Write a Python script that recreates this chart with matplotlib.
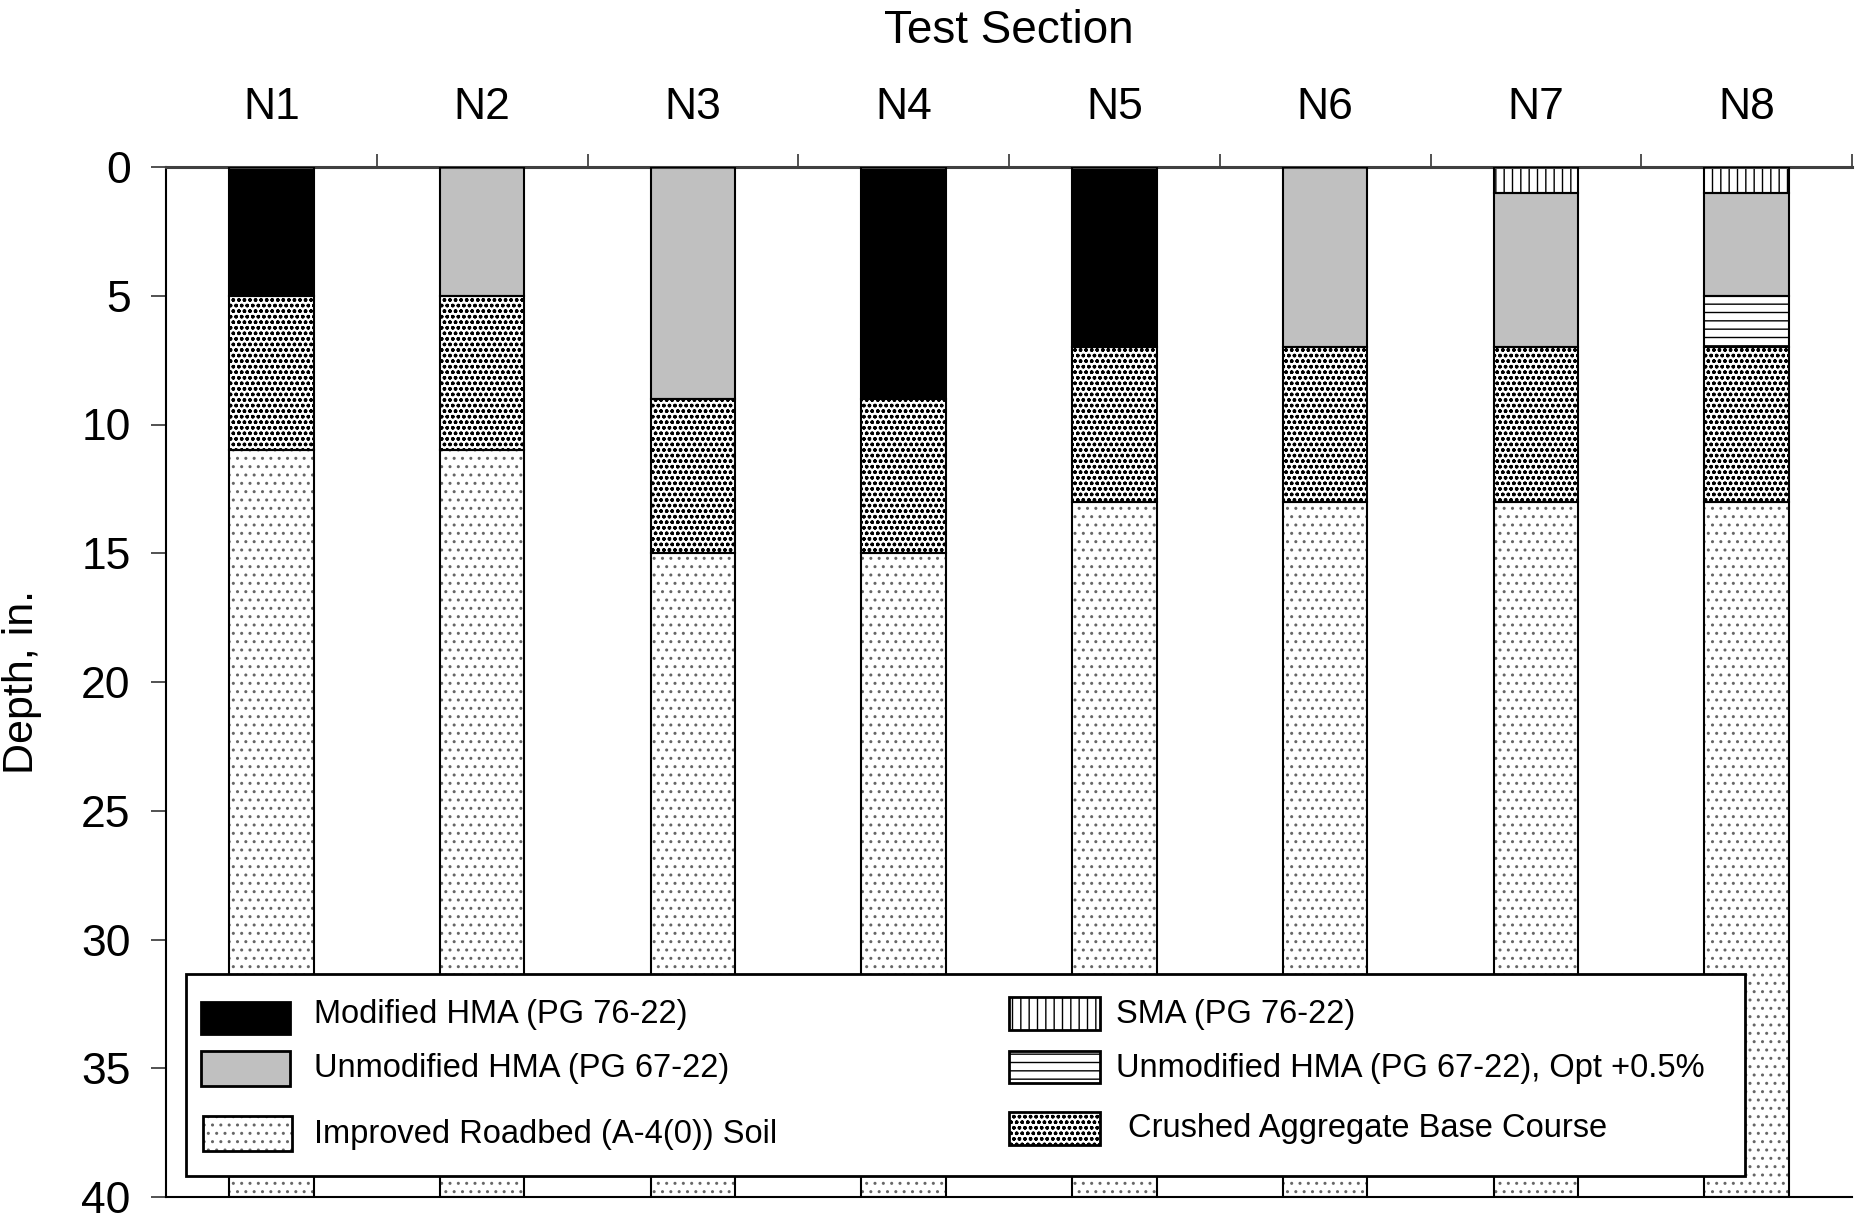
"""
Pavement cross-sections for test sections N1-N8 (depth of each layer).
"""
import matplotlib
matplotlib.use("Agg")
import matplotlib.pyplot as plt
import numpy as np
from matplotlib.patches import Rectangle

plt.rcParams["font.family"] = ["Liberation Sans", "DejaVu Sans"]

# --- data: layer thickness (in.) per section, top to bottom ---
sections = ["N1", "N2", "N3", "N4", "N5", "N6", "N7", "N8"]
sma = [0, 0, 0, 0, 0, 0, 1, 1]
modified = [5, 0, 0, 9, 7, 0, 0, 0]
unmodified = [0, 5, 9, 0, 0, 7, 6, 4]
unmod_opt = [0, 0, 0, 0, 0, 0, 0, 2]
base_course = [6, 6, 6, 6, 6, 6, 6, 6]
roadbed = [29, 29, 25, 25, 27, 27, 27, 27]

layer_names = [
    "SMA (PG 76-22)",
    "Modified HMA (PG 76-22)",
    "Unmodified HMA (PG 67-22)",
    "Unmodified HMA (PG 67-22), Opt +0.5%",
    "Crushed Aggregate Base Course",
    "Improved Roadbed (A-4(0)) Soil",
]
layers = [sma, modified, unmodified, unmod_opt, base_course, roadbed]

# fill colour, hatch, hatch colour for each layer
styles = {
    "SMA (PG 76-22)": ("white", "||", "black"),
    "Modified HMA (PG 76-22)": ("black", "", "black"),
    "Unmodified HMA (PG 67-22)": ("#c0c0c0", "", "black"),
    "Unmodified HMA (PG 67-22), Opt +0.5%": ("white", "--", "black"),
    "Crushed Aggregate Base Course": ("white", "ooo", "black"),
    "Improved Roadbed (A-4(0)) Soil": ("white", "..", "#666666"),
}
HATCH_LW = {"ooo": 1.0}

W, H = 1856, 1214
fig = plt.figure(figsize=(W / 100, H / 100), dpi=100)
ax = fig.add_axes([166 / W, 1 - 1197 / H, (1852 - 166) / W, (1197 - 167) / H])


def set_hlw(patch, hatch):
    if hasattr(patch, "set_hatch_linewidth"):
        patch.set_hatch_linewidth(HATCH_LW.get(hatch, 1.0))


def hatched_rect(target, xy, w, h, name, lw=1.5, **kw):
    face, hatch, hcol = styles[name]
    p1 = Rectangle(xy, w, h, facecolor=face, edgecolor=hcol, hatch=hatch, linewidth=0, **kw)
    p2 = Rectangle(xy, w, h, fill=False, edgecolor="black", linewidth=lw, **kw)
    set_hlw(p1, hatch)
    target.add_artist(p1)
    target.add_artist(p2)


x = np.arange(len(sections))
width = 0.4
bottom = np.zeros(len(sections))
for name, vals in zip(layer_names, layers):
    vals = np.array(vals, dtype=float)
    face, hatch, hcol = styles[name]
    keep = vals > 0
    bars = ax.bar(x[keep], vals[keep], width, bottom=bottom[keep], color=face,
                  edgecolor=hcol, hatch=hatch, linewidth=0, zorder=2)
    for b in bars:
        set_hlw(b, hatch)
    ax.bar(x[keep], vals[keep], width, bottom=bottom[keep], fill=False,
           edgecolor="black", linewidth=1.5, zorder=3)
    bottom += vals

ax.set_xlim(-0.5, len(sections) - 0.5)
ax.set_ylim(40, 0)
ax.set_yticks(np.arange(0, 41, 5))

# section names on top, ticks between the sections
ax.xaxis.set_ticks_position("top")
ax.xaxis.set_label_position("top")
ax.set_xticks(x + 0.5)
ax.set_xticklabels([])
ax.set_xticks(x, minor=True)
ax.set_xticklabels(sections, minor=True, fontsize=32)
ax.tick_params(axis="x", which="minor", length=0, pad=28)
ax.tick_params(axis="x", which="major", direction="out", length=9.5, width=1.2,
               color="#333333")
ax.tick_params(axis="y", direction="out", length=10.5, width=1.2, pad=15,
               labelsize=32, color="#333333")
ax.set_xlabel("Test Section", fontsize=33, labelpad=32)
ax.set_ylabel("Depth, in.", fontsize=31, labelpad=28)

ax.spines["right"].set_visible(False)
ax.spines["top"].set_linewidth(2.2)
ax.spines["top"].set_color("#404040")
ax.spines["left"].set_linewidth(1.5)
ax.spines["bottom"].set_linewidth(1.5)


# --- legend box drawn in figure pixels ---
def fx(px):
    return px / W


def fy(py):
    return 1 - py / H


box = Rectangle((fx(186), fy(1176)), fx(1745) - fx(186), fy(974) - fy(1176),
                transform=fig.transFigure, facecolor="white", edgecolor="black",
                linewidth=2, zorder=5)
fig.add_artist(box)

entries = [
    ("Modified HMA (PG 76-22)", 201, 290, 1002, 1034, 314, 1014),
    ("Unmodified HMA (PG 67-22)", 201, 290, 1051, 1086, 314, 1068),
    ("Improved Roadbed (A-4(0)) Soil", 203, 292, 1116, 1151, 314, 1135),
    ("SMA (PG 76-22)", 1009, 1100, 997, 1030, 1116, 1014),
    ("Unmodified HMA (PG 67-22), Opt +0.5%", 1009, 1100, 1051, 1083, 1116, 1068),
    ("Crushed Aggregate Base Course", 1009, 1100, 1112, 1145, 1128, 1128),
]
for name, x0, x1, y0, y1, tx, ty in entries:
    hatched_rect(fig, (fx(x0), fy(y1)), fx(x1) - fx(x0), fy(y0) - fy(y1), name,
                 lw=2, transform=fig.transFigure, zorder=6)
    fig.text(fx(tx), fy(ty), name, fontsize=23.5, va="center", ha="left", zorder=7)

fig.savefig("out.png", dpi=100)
